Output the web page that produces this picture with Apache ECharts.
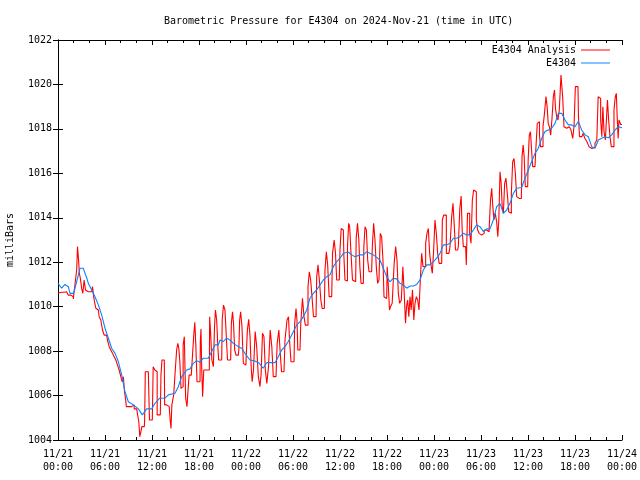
<!DOCTYPE html>
<html>
<head>
<meta charset="utf-8">
<script src="https://cdn.jsdelivr.net/npm/echarts@6/dist/echarts.min.js"></script>
<style>
html,body{margin:0;padding:0;background:#fff;}
#chart{width:640px;height:480px;}
</style>
</head>
<body>
<div id="chart"></div>
<script>
// Time in hours since 2024-11-21 00:00 UTC
const xTickLabels = ['11/21\n00:00','11/21\n06:00','11/21\n12:00','11/21\n18:00','11/22\n00:00','11/22\n06:00','11/22\n12:00','11/22\n18:00','11/23\n00:00','11/23\n06:00','11/23\n12:00','11/23\n18:00','11/24\n00:00'];
const yTickLabels = ['1004','1006','1008','1010','1012','1014','1016','1018','1020','1022'];
const seriesNames = ['E4304 Analysis', 'E4304'];

const redHours = [0.0,0.47,1.1,1.53,1.74,2.17,2.34,2.43,2.55,2.68,2.77,2.94,3.1,3.23,3.45,3.57,3.87,4.3,4.51,4.6,4.72,4.94,5.15,5.36,5.57,5.79,6.0,6.2,6.43,6.64,6.85,7.06,7.28,7.49,7.7,7.91,8.13,8.26,8.43,8.55,8.68,8.77,9.4,9.62,9.83,10.25,10.38,10.51,10.64,10.77,11.02,11.1,11.19,11.53,11.62,11.74,12.04,12.26,12.47,12.6,12.72,13.06,13.23,13.32,13.57,13.66,14.09,14.3,14.38,14.47,14.6,14.94,15.06,15.23,15.36,15.49,15.62,15.79,15.91,16.04,16.21,16.38,16.55,16.68,16.8,17.23,17.4,17.53,17.66,17.83,18.13,18.21,18.3,18.4,18.52,18.7,19.32,19.4,19.53,19.75,19.92,20.04,20.17,20.34,20.47,20.55,20.9,21.02,21.23,21.4,21.53,21.75,22.04,22.22,22.34,22.47,22.64,22.81,23.02,23.15,23.23,23.4,23.57,23.75,23.87,24.09,24.26,24.43,24.6,24.72,24.85,25.06,25.28,25.45,25.7,25.87,26.0,26.21,26.38,26.55,26.77,26.98,27.19,27.4,27.57,27.83,28.13,28.26,28.43,28.64,28.85,29.11,29.36,29.49,29.62,29.87,30.13,30.3,30.47,30.55,30.68,30.89,31.1,31.32,31.49,31.66,31.83,32.0,32.17,32.34,32.51,32.72,32.94,33.11,33.28,33.45,33.66,33.79,34.0,34.17,34.34,34.51,34.72,34.94,35.15,35.36,35.49,35.66,35.91,36.09,36.21,36.43,36.55,36.72,36.85,37.06,37.15,37.32,37.49,37.7,38.0,38.13,38.34,38.47,38.6,38.77,38.98,39.11,39.28,39.45,39.62,39.79,40.04,40.21,40.38,40.55,40.72,40.89,41.06,41.23,41.4,41.57,41.66,41.96,42.09,42.26,42.38,42.51,42.81,43.02,43.19,43.36,43.53,43.7,43.96,44.09,44.3,44.43,44.55,44.72,44.85,45.02,45.15,45.36,45.49,45.66,45.83,46.0,46.17,46.34,46.51,46.68,46.85,47.02,47.19,47.36,47.53,47.7,47.87,48.04,48.21,48.38,48.55,48.77,48.98,49.15,49.32,49.49,49.66,49.91,50.17,50.34,50.51,50.68,50.81,51.02,51.19,51.4,51.53,51.66,51.83,52.04,52.21,52.34,52.47,52.64,52.81,52.98,53.15,53.32,53.49,53.66,53.87,54.09,54.3,54.51,54.93,55.15,55.28,55.45,55.57,55.74,55.91,56.08,56.21,56.34,56.51,56.64,56.77,56.94,57.1,57.27,57.45,57.62,57.79,57.96,58.13,58.3,58.47,58.64,58.89,59.15,59.32,59.45,59.57,59.74,59.96,60.08,60.25,60.38,60.51,60.68,60.89,61.1,61.27,61.4,61.53,61.66,61.83,62.0,62.21,62.38,62.51,62.64,62.81,62.98,63.15,63.32,63.45,63.57,63.74,63.91,64.08,64.34,64.51,64.68,64.85,65.02,65.19,65.36,65.62,65.79,65.96,66.13,66.38,66.51,66.64,66.89,67.15,67.4,67.66,67.91,68.17,68.42,68.68,68.89,69.02,69.19,69.36,69.49,69.62,69.79,69.96,70.08,70.21,70.38,70.55,70.72,70.89,71.06,71.23,71.32,71.45,71.57,71.66,72.0];
const redValues = [1010.6,1010.65,1010.67,1010.52,1010.45,1010.35,1011.27,1011.65,1012.7,1012.17,1011.5,1011.27,1010.82,1010.6,1011.2,1010.75,1010.67,1010.67,1010.9,1010.45,1010.22,1009.93,1009.85,1009.55,1009.4,1008.95,1008.72,1008.72,1008.5,1008.2,1008.05,1007.9,1007.75,1007.6,1007.37,1007.15,1006.85,1006.62,1006.85,1006.17,1005.88,1005.5,1005.5,1005.58,1005.4,1005.35,1004.82,1004.15,1004.37,1004.6,1004.6,1004.9,1007.07,1007.07,1006.4,1004.9,1004.9,1007.3,1007.15,1007.07,1005.13,1005.13,1006.92,1007.6,1007.6,1005.58,1005.5,1005.43,1004.82,1004.52,1005.58,1006.03,1007.3,1008.05,1008.35,1008.12,1007.52,1006.32,1006.4,1008.27,1008.65,1005.88,1005.5,1006.32,1006.92,1006.92,1008.65,1009.3,1008.27,1006.62,1006.62,1008.42,1009.0,1007.2,1005.95,1007.15,1007.15,1009.55,1008.95,1007.6,1007.3,1009.1,1009.85,1009.4,1008.2,1007.6,1007.6,1009.4,1010.07,1009.85,1008.8,1007.6,1007.6,1009.25,1009.77,1009.25,1008.05,1007.82,1007.82,1008.05,1009.4,1009.77,1009.1,1007.45,1007.37,1007.37,1008.95,1009.43,1008.65,1007.3,1006.62,1007.15,1008.88,1008.2,1006.85,1006.4,1007.0,1008.8,1008.65,1007.15,1006.55,1007.3,1008.95,1008.2,1006.85,1006.85,1008.35,1008.95,1008.05,1007.07,1007.07,1008.5,1009.4,1009.55,1008.5,1007.52,1007.52,1009.25,1009.92,1009.4,1008.05,1008.05,1009.25,1010.38,1009.55,1009.17,1009.17,1010.9,1011.57,1011.2,1010.45,1009.55,1009.55,1011.35,1011.88,1011.2,1010.3,1009.92,1009.92,1011.65,1012.47,1011.88,1010.45,1010.45,1012.4,1013.0,1012.4,1011.2,1011.2,1012.55,1013.52,1013.45,1012.32,1011.2,1011.15,1012.7,1013.75,1013.6,1012.4,1011.2,1011.12,1013.07,1013.75,1013.0,1011.8,1011.05,1011.05,1012.7,1013.6,1013.45,1012.1,1011.57,1011.57,1012.7,1013.75,1013.0,1011.8,1011.05,1011.2,1013.3,1013.15,1012.1,1010.45,1010.37,1011.8,1010.9,1009.85,1010.0,1010.15,1011.95,1012.7,1012.1,1010.6,1010.15,1010.3,1011.8,1010.6,1009.25,1010.0,1010.3,1009.55,1010.45,1009.85,1010.75,1009.4,1010.15,1010.45,1010.3,1009.85,1011.2,1012.4,1011.8,1011.8,1012.85,1013.3,1013.52,1012.4,1011.88,1011.5,1012.55,1013.9,1013.3,1012.4,1011.95,1011.95,1013.9,1014.12,1014.12,1012.4,1012.4,1012.7,1014.05,1014.65,1013.6,1012.55,1012.55,1012.7,1014.42,1014.98,1013.45,1012.7,1012.7,1011.88,1014.2,1014.2,1013.3,1012.85,1014.8,1015.25,1015.17,1013.9,1013.45,1013.3,1013.22,1013.3,1013.45,1013.37,1013.52,1014.8,1015.33,1014.5,1013.9,1014.2,1013.82,1013.15,1013.9,1016.07,1015.55,1014.5,1014.2,1015.55,1015.78,1015.1,1014.27,1014.2,1015.1,1016.52,1016.67,1016.0,1014.95,1014.87,1014.87,1016.75,1017.27,1016.75,1015.4,1015.4,1016.6,1017.72,1017.87,1017.12,1016.3,1016.3,1017.05,1018.25,1018.32,1017.72,1017.2,1017.2,1018.1,1018.7,1019.45,1019.0,1018.25,1018.1,1017.72,1018.47,1019.45,1019.75,1018.92,1018.55,1018.4,1018.85,1020.42,1019.45,1018.1,1018.03,1017.95,1018.1,1018.1,1017.95,1017.57,1018.1,1019.9,1019.9,1018.55,1017.65,1017.65,1017.8,1017.57,1017.42,1017.2,1017.12,1017.17,1017.35,1017.5,1019.45,1019.37,1018.4,1017.65,1019.0,1017.87,1017.5,1018.47,1019.3,1018.4,1017.65,1017.2,1017.2,1018.85,1019.45,1019.6,1018.55,1017.57,1018.4,1018.2];

const blueHours = [0,0.47,0.89,1.32,1.53,1.96,2.17,2.38,2.81,3.23,3.45,3.66,3.87,4.3,4.72,5.15,5.57,6.0,6.43,6.85,7.28,7.7,8.13,8.55,8.98,9.62,10.25,10.77,11.32,11.96,12.38,13.0,13.66,14.08,14.94,15.36,15.79,16.43,16.85,17.28,17.7,18.13,18.55,19.19,19.62,20.04,20.47,20.68,21.1,21.53,21.96,22.38,23.02,23.45,23.87,24.5,25.15,25.7,26.2,26.64,27.28,27.7,28.13,28.55,28.98,29.4,29.83,30.47,30.89,31.32,31.75,32.17,32.6,33.02,33.45,33.87,34.3,34.72,35.15,35.57,36.0,36.43,37.06,37.5,37.92,38.55,38.98,39.4,39.83,40.26,40.68,41.1,41.53,41.96,42.38,42.8,43.23,43.66,44.08,44.51,44.94,45.36,45.79,46.21,46.64,47.06,47.49,47.91,48.34,48.77,49.19,49.62,50.04,50.47,50.89,51.32,51.75,52.17,52.6,53.02,53.45,53.87,54.3,54.73,55.15,55.57,56.0,56.43,56.85,57.28,57.7,58.13,58.55,59.19,59.62,60.04,60.47,60.89,61.32,61.75,62.17,62.6,63.02,63.45,63.87,64.3,64.72,65.15,65.57,66.0,66.43,66.85,67.28,67.7,68.13,68.55,68.98,69.4,69.83,70.26,70.68,71.11,71.53,72.0];
const blueValues = [1011.05,1010.83,1011.0,1010.9,1010.6,1010.6,1010.83,1011.12,1011.73,1011.73,1011.5,1011.3,1011.05,1010.75,1010.45,1010.08,1009.63,1009.03,1008.58,1008.13,1007.9,1007.53,1006.93,1006.17,1005.72,1005.58,1005.4,1005.13,1005.4,1005.4,1005.65,1005.88,1005.88,1006.03,1006.1,1006.4,1006.85,1007.15,1007.2,1007.45,1007.57,1007.5,1007.68,1007.68,1007.98,1008.28,1008.28,1008.5,1008.43,1008.58,1008.5,1008.35,1008.2,1008.13,1007.9,1007.6,1007.55,1007.45,1007.23,1007.48,1007.48,1007.48,1007.75,1008.05,1008.2,1008.43,1008.73,1009.18,1009.32,1009.55,1009.85,1010.38,1010.6,1010.75,1010.98,1011.2,1011.35,1011.43,1011.8,1012.02,1012.18,1012.4,1012.46,1012.33,1012.25,1012.33,1012.33,1012.47,1012.4,1012.33,1012.22,1012.1,1011.73,1011.35,1011.12,1011.28,1011.25,1011.05,1010.98,1010.83,1010.93,1010.93,1011.0,1011.2,1011.65,1011.88,1011.88,1012.02,1012.18,1012.4,1012.78,1012.78,1012.85,1013.08,1013.08,1013.15,1013.3,1013.23,1013.23,1013.45,1013.68,1013.6,1013.38,1013.5,1013.5,1013.9,1014.5,1014.65,1014.2,1014.35,1014.65,1015.1,1015.33,1015.36,1015.78,1016.15,1016.53,1016.9,1017.13,1017.58,1017.88,1017.95,1018.03,1018.25,1018.7,1018.7,1018.4,1018.18,1018.18,1018.1,1018.33,1017.95,1017.73,1017.65,1017.2,1017.13,1017.5,1017.58,1017.65,1017.6,1017.73,1017.95,1018.1,1018.05];

const zip = (xs, ys) => xs.map((x, i) => [x, ys[i]]);
const FONT = 'DejaVu Sans Mono';
const txt = { fontFamily: FONT, fontSize: 10, color: '#000' };
const axLine = { show: true, lineStyle: { color: '#000', width: 1 } };

function xAx(pos, labels) {
  return {
    type: 'value', position: pos, min: 0, max: 72, interval: 6,
    axisLine: axLine,
    axisTick: { show: true, inside: true, length: 5, lineStyle: { color: '#000' } },
    minorTick: { show: true, splitNumber: 3, length: 3, lineStyle: { color: '#000' } },
    splitLine: { show: false }, minorSplitLine: { show: false },
    axisLabel: labels ? Object.assign({ show: true, margin: 8, lineHeight: 13,
      formatter: v => xTickLabels[Math.round(v / 6)] }, txt) : { show: false }
  };
}
function yAx(pos, labels) {
  const a = {
    type: 'value', position: pos, min: 1004, max: 1022, interval: 2,
    axisLine: axLine,
    axisTick: { show: true, inside: true, length: 5, lineStyle: { color: '#000' } },
    splitLine: { show: false },
    axisLabel: labels ? Object.assign({ show: true, margin: 6,
      formatter: v => yTickLabels[Math.round((v - 1004) / 2)] }, txt) : { show: false }
  };
  if (labels) {
    a.name = 'milliBars'; a.nameLocation = 'middle'; a.nameRotate = 90; a.nameGap = 43;
    a.nameTextStyle = txt;
  }
  return a;
}

const chart = echarts.init(document.getElementById('chart'), null, { renderer: 'canvas' });
chart.setOption({
  animation: false,
  backgroundColor: '#fff',
  title: {
    text: 'Barometric Pressure for E4304 on 2024-Nov-21 (time in UTC)',
    left: 164, top: 16, padding: 0,
    textStyle: { fontFamily: FONT, fontSize: 10, fontWeight: 'normal', color: '#000' }
  },
  legend: [
    { data: [seriesNames[0]], right: 30, top: 45, padding: 0, align: 'right',
      icon: 'rect', itemWidth: 29, itemHeight: 1, textStyle: txt },
    { data: [seriesNames[1]], right: 30, top: 58, padding: 0, align: 'right',
      icon: 'rect', itemWidth: 29, itemHeight: 1, textStyle: txt }
  ],
  grid: { left: 58, right: 18, top: 40, bottom: 40, containLabel: false, outerBoundsMode: 'none' },
  xAxis: [xAx('bottom', true), xAx('top', false)],
  yAxis: [yAx('left', true), yAx('right', false)],
  series: [
    { name: seriesNames[0], type: 'line', xAxisIndex: 0, yAxisIndex: 0, step: 'middle',
      data: zip(redHours, redValues), showSymbol: false, symbol: 'none',
      color: '#ff0000', lineStyle: { color: '#ff0000', width: 1.1 } },
    { name: seriesNames[1], type: 'line', xAxisIndex: 0, yAxisIndex: 0,
      data: zip(blueHours, blueValues), showSymbol: false, symbol: 'none',
      color: '#0a84ff', lineStyle: { color: '#0a84ff', width: 1.1 } }
  ]
});
</script>
</body>
</html>
